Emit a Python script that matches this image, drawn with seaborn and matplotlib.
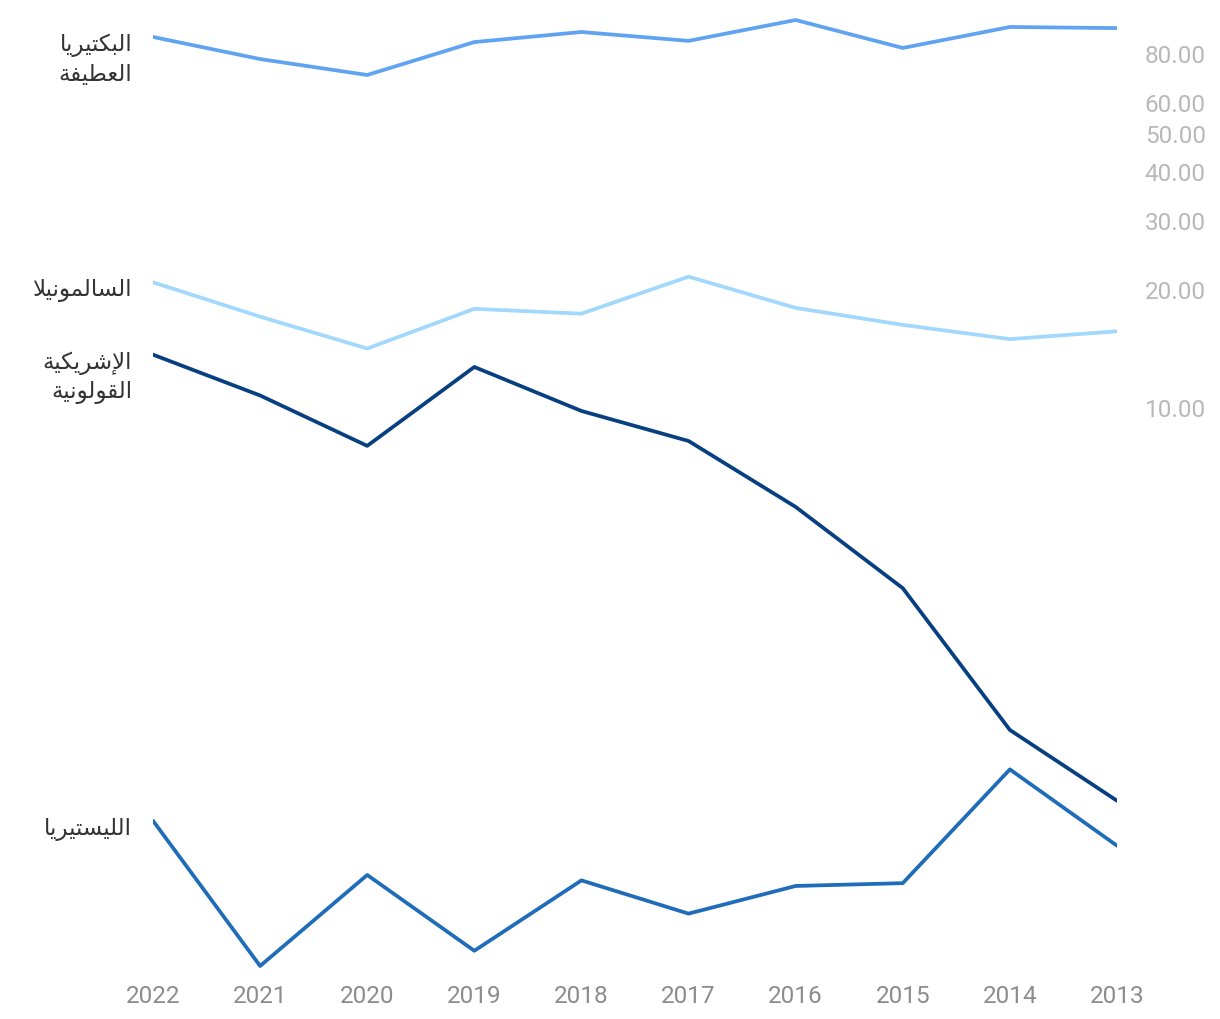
import numpy as np
import pandas as pd
import matplotlib
matplotlib.use("Agg")
import matplotlib.pyplot as plt
import seaborn as sns
from matplotlib.ticker import FixedLocator, FuncFormatter, NullLocator

# ---------------- data ----------------
years = [2022, 2021, 2020, 2019, 2018, 2017, 2016, 2015, 2014, 2013]
series_names = ["البكتيريا العطيفة", "السالمونيلا", "الإشريكية القولونية", "الليستيريا"]
label_lines = ["البكتيريا\nالعطيفة", "السالمونيلا", "الإشريكية\nالقولونية", "الليستيريا"]
campylobacter = [87.9, 77.2, 70.3, 85.3, 90.5, 85.9, 97.1, 82.4, 93.2, 92.6]
salmonella = [20.8, 17.0, 14.1, 17.8, 17.3, 21.5, 17.9, 16.2, 14.9, 15.6]
ecoli = [13.6, 10.7, 7.96, 12.65, 9.77, 8.19, 5.56, 3.45, 1.50, 0.99]
listeria = [0.88, 0.375, 0.64, 0.41, 0.62, 0.51, 0.60, 0.61, 1.19, 0.76]
values = [campylobacter, salmonella, ecoli, listeria]
colors = ["#60a3f0", "#a2d8fc", "#073f80", "#1f6cb9"]
ytick_values = [10, 20, 30, 40, 50, 60, 80]

# ------------- minimal Arabic shaping (presentation forms) -------------
FORMS = {
    "\u0627": ("\uFE8D", "\uFE8E", None, None),
    "\u0625": ("\uFE87", "\uFE88", None, None),
    "\u0644": ("\uFEDD", "\uFEDE", "\uFEDF", "\uFEE0"),
    "\u0628": ("\uFE8F", "\uFE90", "\uFE91", "\uFE92"),
    "\u0643": ("\uFED9", "\uFEDA", "\uFEDB", "\uFEDC"),
    "\u062A": ("\uFE95", "\uFE96", "\uFE97", "\uFE98"),
    "\u064A": ("\uFEF1", "\uFEF2", "\uFEF3", "\uFEF4"),
    "\u0631": ("\uFEAD", "\uFEAE", None, None),
    "\u0639": ("\uFEC9", "\uFECA", "\uFECB", "\uFECC"),
    "\u0637": ("\uFEC1", "\uFEC2", "\uFEC3", "\uFEC4"),
    "\u0641": ("\uFED1", "\uFED2", "\uFED3", "\uFED4"),
    "\u0629": ("\uFE93", "\uFE94", None, None),
    "\u0633": ("\uFEB1", "\uFEB2", "\uFEB3", "\uFEB4"),
    "\u0645": ("\uFEE1", "\uFEE2", "\uFEE3", "\uFEE4"),
    "\u0648": ("\uFEED", "\uFEEE", None, None),
    "\u0646": ("\uFEE5", "\uFEE6", "\uFEE7", "\uFEE8"),
    "\u0634": ("\uFEB5", "\uFEB6", "\uFEB7", "\uFEB8"),
    "\u0642": ("\uFED5", "\uFED6", "\uFED7", "\uFED8"),
}
LAM_ALEF = {
    "\u0627": ("\uFEFB", "\uFEFC"),
    "\u0625": ("\uFEF9", "\uFEFA"),
    "\u0623": ("\uFEF7", "\uFEF8"),
    "\u0622": ("\uFEF5", "\uFEF6"),
}


def shape_word(word):
    tokens = []
    i = 0
    while i < len(word):
        c = word[i]
        if c == "\u0644" and i + 1 < len(word) and word[i + 1] in LAM_ALEF:
            tokens.append(("lig", word[i + 1]))
            i += 2
        else:
            tokens.append(("ch", c))
            i += 1

    def dual(tok):
        return tok is not None and tok[0] == "ch" and tok[1] in FORMS and FORMS[tok[1]][2] is not None

    def joins(tok):
        return tok is not None and (tok[0] == "lig" or tok[1] in FORMS)

    out = []
    for k, t in enumerate(tokens):
        prev = tokens[k - 1] if k > 0 else None
        nxt = tokens[k + 1] if k + 1 < len(tokens) else None
        cp = dual(prev) and joins(t)
        cn = dual(t) and joins(nxt)
        if t[0] == "lig":
            out.append(LAM_ALEF[t[1]][1 if cp else 0])
        elif t[1] in FORMS:
            f = FORMS[t[1]]
            if cp and cn:
                out.append(f[3])
            elif cp:
                out.append(f[1])
            elif cn:
                out.append(f[2])
            else:
                out.append(f[0])
        else:
            out.append(t[1])
    return "".join(out)[::-1]


def shape(text):
    lines = []
    for line in text.split("\n"):
        words = [shape_word(w) for w in line.split(" ")]
        lines.append(" ".join(reversed(words)))
    return "\n".join(lines)


# ---------------- frame ----------------
rows = []
for name, vals in zip(series_names, values):
    for y, v in zip(years, vals):
        rows.append({"year": y, "value": v, "series": name})
df = pd.DataFrame(rows)

sns.set_theme(style="white")
plt.rcParams["font.family"] = ["Roboto", "DejaVu Sans"]

W, H = 1220, 1020
fig = plt.figure(figsize=(W / 100, H / 100), dpi=100)
ax_left, ax_right, ax_top, ax_bottom = 153, 1117, 15, 970
ax = fig.add_axes([ax_left / W, 1 - ax_bottom / H, (ax_right - ax_left) / W, (ax_bottom - ax_top) / H])

sns.lineplot(data=df, x="year", y="value", hue="series", hue_order=series_names,
             palette=dict(zip(series_names, colors)), linewidth=2.7, legend=False, ax=ax)

ax.set_yscale("log")
# pixel mapping: y_px = 408 - 392*log10(v/10)
def px_to_val(p):
    return 10 ** (1 + (408 - p) / 392)

ax.set_ylim(px_to_val(ax_bottom), px_to_val(ax_top))
ax.set_xlim(2022, 2013)

for s in ax.spines.values():
    s.set_visible(False)
ax.grid(False)

ax.set_xticks(years)
ax.set_xticklabels([str(y) for y in years])
ax.yaxis.set_major_locator(FixedLocator(ytick_values))
ax.yaxis.set_minor_locator(NullLocator())
ax.yaxis.set_major_formatter(FuncFormatter(lambda v, p: f"{v:.2f}"))
ax.yaxis.tick_right()
ax.tick_params(axis="x", length=0, pad=10.5, labelsize=17.5, labelcolor="#8c8c8c")
ax.tick_params(axis="y", length=0, pad=20, labelsize=17.5, labelcolor="#b8b8b8")
ax.set_xlabel("")
ax.set_ylabel("")

for lab, vals in zip(label_lines, values):
    ax.annotate(shape(lab), xy=(years[0], vals[0]), xytext=(-15, 3), textcoords="offset points",
                ha="right", va="top", fontsize=16.5, color="#333333",
                family="DejaVu Sans", linespacing=1.3)

fig.savefig("out.png", dpi=100, facecolor="white")
